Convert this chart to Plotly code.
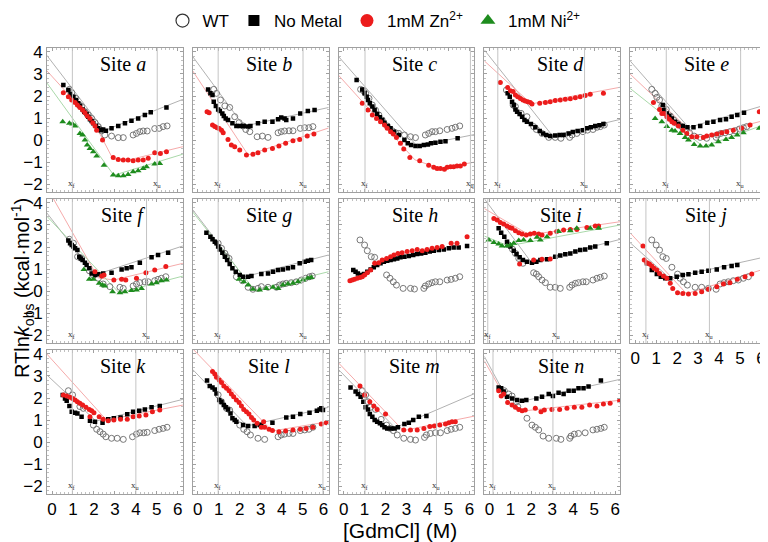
import plotly.graph_objects as go
from plotly.subplots import make_subplots

# ---------------- data: [GdmCl] (M), RTln k_obs (kcal/mol) ----------------
SITES = list("abcdefghijklmn")
XF = [0.97, 0.97, 1.02, 0.40, 1.48, 0.97, 0.97, None, -0.08, 0.51, 0.97, 0.97, 1.02, 0.17]
XU = [5.02, 5.02, 6.05, 4.54, 5.03, 4.51, 5.02, None, 3.19, 3.54, 4.00, 5.97, 4.43, 3.03]
X_TICKS = [0, 1, 2, 3, 4, 5, 6]
Y_TICKS = [-2, -1, 0, 1, 2, 3, 4]

# site a
wt_a = [[0.83,2.30],[0.94,2.15],[1.14,1.89],[1.30,1.59],[1.41,1.52],[1.57,1.29],[1.73,1.14],[1.89,0.98],[2.05,0.79],[2.21,0.61],[2.37,0.42],[2.52,0.23],[2.84,0.18],[3.16,0.11],[3.40,0.11],[3.87,0.23],[4.03,0.30],[4.19,0.38],[4.35,0.41],[4.54,0.41],[4.90,0.52],[5.11,0.53],[5.30,0.61],[5.49,0.64]]
nm_a = [[0.54,2.50],[0.78,2.27],[0.89,2.08],[1.02,1.97],[1.14,1.82],[1.25,1.67],[1.33,1.55],[1.46,1.39],[1.54,1.29],[1.65,1.18],[1.73,1.06],[1.81,0.94],[1.89,0.86],[1.97,0.76],[2.10,0.64],[2.21,0.53],[2.33,0.45],[2.44,0.48],[2.57,0.42],[2.84,0.53],[3.16,0.64],[3.48,0.76],[3.79,0.88],[4.11,0.98],[4.43,1.14],[4.71,1.26],[5.46,1.48]]
zn_a = [[0.54,2.15],[0.78,1.97],[0.94,1.82],[1.10,1.70],[1.21,1.59],[1.33,1.48],[1.46,1.36],[1.57,1.24],[1.68,1.09],[1.81,0.98],[1.94,0.79],[2.05,0.64],[2.13,0.45],[2.41,0.00],[2.92,-0.79],[3.16,-0.88],[3.40,-0.91],[3.63,-0.91],[3.87,-0.94],[4.11,-0.91],[4.35,-0.91],[4.59,-0.83],[4.90,-0.58],[5.17,-0.61],[5.46,-0.53]]
ni_a = [[0.51,0.83],[0.83,0.76],[0.98,0.73],[1.10,0.64],[1.33,0.30],[1.46,0.23],[1.57,0.00],[1.68,-0.23],[1.81,-0.38],[1.97,-0.53],[2.13,-0.73],[2.48,-1.14],[2.92,-1.59],[3.16,-1.62],[3.40,-1.62],[3.63,-1.56],[3.87,-1.44],[4.11,-1.39],[4.35,-1.29],[4.51,-1.21],[4.90,-1.09],[5.14,-1.06]]
fit_nm_a = [[-0.25,3.85],[2.5,0.43],[6.25,1.85]]
fit_zn_a = [[-0.25,3.15],[2.0,0.8],[2.9,-0.85],[3.6,-0.92],[6.25,-0.3]]
fit_ni_a = [[-0.25,2.6],[2.95,-1.6],[6.25,-0.64]]

# site b
wt_b = [[0.76,2.30],[0.89,2.12],[1.08,1.82],[1.29,1.55],[1.52,1.48],[1.76,1.06],[1.97,0.79],[2.16,0.64],[2.29,0.48],[2.48,0.38],[2.83,0.15],[3.08,0.18],[3.35,0.12],[3.83,0.33],[3.98,0.38],[4.14,0.41],[4.35,0.42],[4.54,0.42],[4.89,0.53],[5.10,0.56],[5.30,0.56],[5.49,0.61]]
nm_b = [[0.49,2.30],[0.60,2.12],[0.70,2.05],[0.76,1.74],[0.86,1.55],[0.97,1.39],[1.05,1.32],[1.17,1.21],[1.24,1.09],[1.33,0.98],[1.44,0.91],[1.65,0.76],[1.84,0.64],[2.00,0.64],[2.19,0.64],[2.40,0.61],[2.51,0.64],[2.87,0.76],[3.19,0.83],[3.56,0.83],[3.83,0.94],[3.98,1.02],[4.14,0.98],[4.22,0.91],[4.54,0.98],[4.89,1.21],[5.25,1.32],[5.57,1.36]]
zn_b = [[0.44,1.29],[0.54,1.24],[0.70,0.68],[0.81,0.61],[0.92,0.56],[1.02,0.52],[1.13,0.45],[1.21,0.33],[1.44,0.03],[1.60,-0.23],[1.76,-0.30],[2.00,-0.45],[2.32,-0.68],[2.63,-0.64],[2.87,-0.58],[3.19,-0.45],[3.56,-0.38],[3.87,-0.27],[4.19,-0.15],[4.54,-0.03],[4.86,0.03],[5.22,0.18],[5.54,0.27]]
fit_nm_b = [[-0.25,3.8],[2.2,0.63],[6.25,1.48]]
fit_zn_b = [[-0.25,3.15],[2.4,-0.68],[6.25,0.55]]

# site c
wt_c = [[0.81,2.30],[0.94,2.24],[1.05,2.12],[1.21,1.89],[1.37,1.59],[1.52,1.36],[1.68,1.14],[1.84,0.91],[2.08,0.64],[2.32,0.42],[2.48,0.33],[2.63,0.30],[2.90,0.23],[3.19,0.15],[3.43,0.11],[3.90,0.23],[4.06,0.30],[4.22,0.38],[4.38,0.38],[4.59,0.42],[4.94,0.48],[5.17,0.53],[5.33,0.58],[5.54,0.64]]
nm_c = [[0.62,2.73],[0.89,2.30],[1.00,2.12],[1.10,1.97],[1.16,1.82],[1.25,1.67],[1.37,1.52],[1.48,1.36],[1.60,1.18],[1.73,1.03],[1.84,0.91],[1.95,0.79],[2.11,0.64],[2.24,0.53],[2.40,0.38],[2.63,0.23],[2.90,0.00],[3.06,-0.15],[3.22,-0.23],[3.43,-0.27],[3.63,-0.27],[3.83,-0.23],[4.02,-0.20],[4.17,-0.15],[4.38,-0.12],[4.62,-0.08],[4.86,-0.05],[5.44,0.08]]
zn_c = [[0.89,1.67],[1.16,1.36],[1.37,1.14],[1.57,0.98],[1.76,0.83],[1.95,0.68],[2.08,0.53],[2.24,0.38],[2.37,0.27],[2.52,0.12],[2.71,-0.15],[2.87,-0.41],[3.16,-0.79],[3.63,-0.94],[4.06,-1.14],[4.30,-1.24],[4.46,-1.29],[4.62,-1.29],[4.81,-1.33],[4.94,-1.24],[5.10,-1.21],[5.25,-1.21],[5.41,-1.18],[5.57,-1.18],[5.76,-1.09]]
fit_nm_c = [[-0.25,3.8],[3.5,-0.27],[6.25,0.25]]
fit_zn_c = [[-0.25,2.95],[3.4,-0.9],[4.6,-1.3],[6.25,-1.0]]

# site d
wt_d = [[0.81,2.27],[1.13,1.59],[1.24,1.52],[1.51,1.21],[1.79,1.06],[2.11,0.61],[2.24,0.48],[2.51,0.30],[2.83,0.12],[3.14,0.12],[3.41,0.08],[3.83,0.12],[3.94,0.23],[4.17,0.30],[4.46,0.38],[4.68,0.45],[4.94,0.48],[5.13,0.58],[5.29,0.61],[5.48,0.68]]
nm_d = [[0.87,2.12],[0.97,1.97],[1.08,1.74],[1.16,1.59],[1.24,1.39],[1.32,1.29],[1.44,1.18],[1.56,1.06],[1.67,0.91],[1.79,0.83],[1.98,0.73],[2.19,0.58],[2.40,0.41],[2.56,0.30],[2.71,0.23],[2.90,0.18],[3.14,0.21],[3.35,0.23],[3.54,0.23],[3.78,0.30],[3.98,0.36],[4.21,0.41],[4.46,0.45],[4.65,0.53],[4.84,0.58],[5.05,0.64],[5.25,0.67],[5.44,0.73]]
zn_d = [[0.52,2.61],[0.87,2.39],[1.00,2.24],[1.13,2.20],[1.24,2.05],[1.35,1.97],[1.48,1.89],[1.60,1.82],[1.71,1.77],[1.83,1.74],[1.95,1.70],[2.03,1.64],[2.40,1.67],[2.67,1.70],[2.90,1.74],[3.14,1.79],[3.38,1.82],[3.62,1.85],[3.86,1.88],[4.10,1.92],[4.33,1.97],[4.57,2.02],[4.81,2.08],[5.44,2.12]]
fit_nm_d = [[-0.25,4.1],[3.0,0.2],[6.25,0.94]]
fit_zn_d = [[-0.25,3.6],[2.0,1.64],[6.25,2.4]]

# site e
wt_e = [[0.79,2.30],[0.95,2.12],[1.03,1.94],[1.16,1.82],[1.27,1.55],[1.35,1.52],[1.48,1.39],[1.67,1.09],[1.83,0.91],[1.98,0.76],[2.22,0.61],[2.43,0.45],[2.59,0.33],[2.81,0.18],[3.10,0.12],[3.41,0.08],[3.86,0.12],[3.92,0.23],[4.08,0.30],[4.29,0.33],[4.52,0.38],[4.76,0.42],[4.97,0.50],[5.16,0.56],[5.32,0.61]]
nm_e = [[1.32,1.59],[1.38,1.36],[1.51,1.21],[1.63,1.09],[1.75,0.98],[1.90,0.83],[2.06,0.73],[2.27,0.64],[2.49,0.58],[2.78,0.58],[3.10,0.64],[3.44,0.79],[3.73,0.83],[4.05,0.91],[4.33,0.94],[4.60,1.06],[4.87,1.14],[5.19,1.24]]
zn_e = [[0.87,1.70],[1.16,1.39],[1.27,1.21],[1.38,1.21],[1.51,1.06],[1.63,0.94],[1.75,0.83],[1.86,0.76],[2.06,0.64],[2.27,0.45],[2.46,0.30],[2.70,0.15],[2.94,0.15],[3.25,0.12],[3.41,0.18],[3.65,0.23],[3.89,0.27],[4.13,0.33],[4.37,0.38],[4.68,0.45],[5.08,0.53],[5.48,0.68],[5.92,1.29]]
ni_e = [[0.95,0.98],[1.27,0.83],[1.51,0.61],[1.75,0.45],[1.90,0.41],[2.14,0.30],[2.38,0.12],[2.54,0.00],[2.81,-0.20],[3.10,-0.27],[3.38,-0.27],[3.65,-0.23],[3.97,-0.08],[4.33,0.03],[4.60,0.12],[4.87,0.23],[5.16,0.33],[5.92,0.53]]
fit_nm_e = [[-0.25,3.6],[2.55,0.57],[6.25,1.6]]
fit_zn_e = [[-0.25,3.0],[2.95,0.12],[6.25,0.91]]
fit_ni_e = [[-0.25,2.35],[3.25,-0.3],[6.25,0.73]]

# site f
wt_f = [[0.83,2.35],[1.02,2.17],[1.22,1.56],[1.41,1.48],[1.78,0.92],[1.97,0.73],[2.21,0.58],[2.44,0.32],[2.76,0.20],[3.24,0.17],[3.40,0.12],[3.87,0.23],[4.03,0.32],[4.19,0.38],[4.43,0.42],[4.59,0.42],[4.90,0.47],[5.06,0.53],[5.22,0.58],[5.43,0.65]]
nm_f = [[0.78,2.29],[0.86,2.17],[0.94,2.09],[1.02,2.02],[1.10,1.94],[1.21,1.86],[1.30,1.56],[1.37,1.48],[1.46,1.41],[1.57,1.29],[1.65,1.18],[1.78,1.03],[1.89,0.80],[2.05,0.73],[2.21,0.76],[2.44,0.80],[2.84,0.83],[3.32,0.98],[3.56,1.03],[3.79,1.08],[4.19,1.29],[4.75,1.53],[5.06,1.64],[5.54,1.74]]
zn_f = [[2.05,0.88],[2.37,0.68],[2.48,0.73],[2.95,0.50],[3.32,0.53],[3.52,0.50],[4.03,0.58],[4.48,0.83],[4.90,0.95],[5.43,1.11]]
ni_f = [[1.52,0.98],[1.78,0.53],[1.97,0.53],[2.25,0.35],[2.41,0.27],[2.52,0.23],[2.89,-0.03],[3.24,-0.08],[3.48,-0.03],[3.79,0.02],[4.03,0.05],[4.27,0.12],[4.75,0.32],[4.98,0.38],[5.22,0.47],[5.46,0.50]]
fit_nm_f = [[-0.25,3.55],[2.05,0.73],[6.25,2.05]]
fit_zn_f = [[0.06,4.2],[2.2,0.6],[2.95,0.5],[6.25,1.26]]
fit_ni_f = [[-0.25,3.4],[3.2,-0.08],[6.25,0.68]]

# site g
wt_g = [[0.97,2.17],[1.13,1.94],[1.29,1.71],[1.37,1.56],[1.49,1.48],[1.84,0.65],[2.13,0.47],[2.40,0.17],[2.63,0.08],[2.87,0.12],[3.03,0.20],[3.35,0.17],[3.75,0.17],[3.90,0.27],[4.06,0.32],[4.22,0.35],[4.46,0.38],[4.70,0.42],[4.94,0.50],[5.14,0.58],[5.33,0.65],[5.46,0.68]]
nm_g = [[0.41,2.65],[0.60,2.47],[0.70,2.35],[0.81,2.24],[0.89,2.17],[0.97,2.02],[1.05,1.89],[1.17,1.74],[1.29,1.56],[1.40,1.41],[1.52,1.23],[1.65,1.03],[1.81,0.88],[2.00,0.73],[2.16,0.65],[2.40,0.65],[2.56,0.68],[3.03,0.77],[3.35,0.80],[3.59,0.88],[3.83,0.95],[4.06,0.98],[4.30,1.03],[4.54,1.08],[4.86,1.26],[5.10,1.33],[5.25,1.38],[5.41,1.41]]
ni_g = [[1.97,0.53],[2.19,0.42],[2.40,0.27],[2.63,0.08],[2.95,0.05],[3.27,0.12],[3.59,0.17],[3.83,0.12],[4.06,0.27],[4.30,0.32],[4.54,0.35],[4.78,0.42],[5.02,0.50],[5.25,0.58],[5.41,0.61]]
fit_nm_g = [[-0.25,3.7],[2.2,0.64],[6.25,1.64]]
fit_ni_g = [[-0.25,3.6],[2.7,0.05],[6.25,0.88]]

# site h
wt_h = [[0.78,2.32],[1.00,2.09],[1.13,1.83],[1.32,1.56],[1.48,1.53],[2.05,0.73],[2.21,0.58],[2.37,0.42],[2.52,0.27],[2.84,0.12],[3.19,0.12],[3.38,0.09],[3.83,0.12],[3.90,0.23],[4.06,0.32],[4.22,0.38],[4.38,0.42],[4.59,0.42],[4.94,0.50],[5.13,0.53],[5.33,0.58],[5.54,0.65]]
nm_h = [[0.46,0.95],[0.57,0.88],[0.68,0.80],[0.81,0.73],[0.97,0.77],[1.13,0.88],[1.29,0.98],[1.44,1.08],[1.60,1.18],[1.76,1.26],[1.92,1.33],[2.08,1.38],[2.24,1.41],[2.40,1.44],[2.56,1.48],[2.71,1.53],[2.90,1.56],[3.11,1.59],[3.32,1.64],[3.51,1.68],[3.70,1.71],[3.90,1.74],[4.11,1.79],[4.30,1.83],[4.54,1.86],[4.78,1.89],[5.02,1.94],[5.25,1.98],[5.49,1.98],[5.89,2.05]]
zn_h = [[0.30,0.47],[0.41,0.50],[0.52,0.53],[0.65,0.58],[0.78,0.62],[0.89,0.65],[1.00,0.73],[1.13,0.83],[1.29,0.95],[1.48,1.26],[1.68,1.29],[1.84,1.41],[2.05,1.48],[2.24,1.56],[2.40,1.64],[2.59,1.71],[2.79,1.74],[3.03,1.79],[3.27,1.83],[3.51,1.89],[3.75,1.83],[3.98,1.89],[4.22,1.94],[4.46,1.98],[4.70,2.02],[5.13,2.17],[5.41,2.17],[5.89,2.47]]

# site i
wt_i = [[0.90,2.10],[1.10,1.90],[1.24,1.71],[1.40,1.48],[1.60,1.26],[2.11,0.83],[2.24,0.77],[2.35,0.65],[2.51,0.50],[2.67,0.38],[2.90,0.17],[3.14,0.17],[3.38,0.12],[3.83,0.17],[3.94,0.27],[4.10,0.35],[4.25,0.38],[4.46,0.42],[4.62,0.42],[4.94,0.50],[5.13,0.58],[5.29,0.62],[5.48,0.68]]
nm_i = [[0.44,2.85],[0.56,2.65],[0.71,2.47],[0.84,2.24],[1.00,2.02],[1.16,1.83],[1.29,1.68],[1.44,1.53],[1.60,1.41],[1.79,1.33],[2.03,1.29],[2.24,1.33],[2.43,1.41],[2.75,1.44],[3.14,1.56],[3.38,1.61],[3.62,1.67],[3.86,1.71],[4.10,1.79],[4.33,1.86],[4.57,1.89],[4.81,1.98],[5.05,2.02],[5.60,2.17]]
zn_i = [[0.21,3.30],[0.37,3.23],[0.52,3.11],[0.68,3.05],[0.84,2.95],[0.97,2.89],[1.08,2.85],[1.24,2.74],[1.40,2.65],[1.56,2.59],[1.76,2.55],[1.95,2.59],[2.14,2.62],[2.35,2.59],[2.51,2.55],[2.90,2.62],[3.21,2.70],[3.54,2.77],[3.86,2.80],[4.17,2.80],[4.65,2.89],[5.05,2.95],[5.21,2.95],[1.44,1.23],[2.11,1.41],[2.51,1.44],[2.90,1.45]]
ni_i = [[-0.03,2.32],[0.21,2.20],[0.44,2.14],[0.60,2.05],[0.84,2.05],[1.00,2.09],[1.16,2.17],[1.40,2.29],[1.63,2.32],[1.95,2.29],[2.27,2.44],[2.43,2.32],[2.75,2.47],[3.30,2.70],[3.86,2.74],[4.17,2.85],[4.81,2.85],[5.21,2.85]]
fit_nm_i = [[-0.25,4.2],[2.0,1.3],[6.25,2.35]]
fit_zn_i = [[-0.25,3.75],[1.9,2.55],[6.25,3.15]]
fit_ni_i = [[-0.25,2.5],[0.9,2.05],[6.25,3.0]]

# site j
wt_j = [[0.79,2.32],[1.00,2.09],[1.16,1.86],[1.32,1.56],[1.48,1.48],[1.75,1.08],[2.02,0.77],[2.14,0.58],[2.30,0.42],[2.49,0.27],[2.86,0.17],[3.17,0.17],[3.49,0.12],[3.86,0.08],[4.05,0.32],[4.24,0.38],[4.44,0.42],[4.68,0.47],[4.92,0.50],[5.16,0.58],[5.40,0.65]]
nm_j = [[0.56,1.26],[0.79,0.95],[1.03,0.77],[1.22,0.65],[1.43,0.58],[1.67,0.58],[1.98,0.65],[2.27,0.73],[2.54,0.76],[2.86,0.83],[3.17,0.88],[3.49,0.92],[3.89,0.98],[4.24,1.08],[4.60,1.14],[4.87,1.18]]
zn_j = [[0.37,2.05],[0.43,1.41],[0.56,1.29],[0.68,1.23],[0.79,1.14],[0.90,1.03],[1.03,0.95],[1.16,0.80],[1.35,0.68],[1.51,0.58],[1.67,0.35],[1.79,0.12],[2.02,-0.08],[2.27,-0.11],[2.54,-0.14],[2.86,-0.11],[3.17,-0.03],[3.49,0.08],[3.89,0.20],[4.21,0.32],[4.52,0.38],[4.87,0.53],[5.24,0.65],[5.56,0.77]]
fit_nm_j = [[-0.25,2.2],[1.65,0.58],[6.25,1.56]]
fit_zn_j = [[-0.25,2.65],[2.45,-0.12],[6.25,1.03]]

# site k
wt_k = [[0.78,2.33],[0.98,2.14],[1.33,1.61],[1.49,1.53],[1.97,0.77],[2.13,0.58],[2.29,0.47],[2.44,0.36],[2.57,0.24],[2.84,0.17],[3.11,0.17],[3.40,0.12],[3.84,0.24],[4.03,0.36],[4.19,0.42],[4.38,0.42],[4.54,0.44],[4.90,0.52],[5.11,0.58],[5.30,0.62],[5.49,0.67]]
nm_k = [[0.51,2.14],[0.62,1.98],[0.70,1.88],[0.83,1.64],[0.94,1.38],[1.10,1.33],[1.21,1.30],[1.41,1.15],[1.81,0.97],[2.05,0.92],[2.41,0.88],[2.68,1.03],[2.95,1.08],[3.27,1.12],[3.59,1.26],[3.87,1.38],[4.16,1.42],[4.43,1.48],[4.75,1.58],[5.14,1.64]]
zn_k = [[0.54,2.14],[0.70,2.09],[0.86,2.03],[0.98,1.98],[1.10,1.91],[1.21,1.83],[1.33,1.76],[1.46,1.68],[1.62,1.58],[1.78,1.48],[1.89,1.42],[2.00,1.33],[1.81,1.15],[2.25,1.15],[2.44,1.03],[2.68,0.97],[2.95,1.00],[3.27,1.03],[3.59,1.03],[3.87,1.15],[4.16,1.18],[4.48,1.23],[4.79,1.38],[5.14,1.45]]
fit_nm_k = [[-0.25,3.05],[2.1,0.95],[6.25,1.94]]
fit_zn_k = [[-0.25,4.0],[2.6,1.0],[6.25,1.68]]

# site l
wt_l = [[0.97,2.14],[1.13,1.83],[1.37,1.53],[1.52,1.45],[2.00,0.77],[2.19,0.58],[2.35,0.47],[2.51,0.32],[2.87,0.17],[3.19,0.12],[3.83,0.24],[3.98,0.32],[4.14,0.36],[4.35,0.39],[4.54,0.39],[4.89,0.52],[5.10,0.55],[5.30,0.58],[5.49,0.67]]
nm_l = [[0.44,2.79],[0.57,2.55],[0.70,2.48],[0.81,2.39],[0.89,2.21],[1.02,1.91],[1.13,1.83],[1.24,1.68],[1.33,1.58],[1.44,1.48],[1.56,1.30],[1.65,1.08],[1.76,1.00],[1.84,0.92],[2.16,0.77],[2.40,0.73],[2.71,0.73],[2.95,0.77],[3.03,0.77],[3.56,0.88],[4.22,1.11],[4.54,1.15],[4.89,1.27],[5.33,1.33],[5.68,1.42],[5.81,1.48],[5.89,1.53],[5.97,1.45]]
zn_l = [[0.70,3.20],[0.81,3.09],[0.89,2.94],[1.02,2.82],[1.13,2.70],[1.24,2.55],[1.37,2.44],[1.49,2.33],[1.60,2.18],[1.71,2.06],[1.84,1.91],[1.97,1.79],[2.08,1.64],[2.19,1.48],[2.32,1.38],[2.44,1.27],[2.56,1.12],[2.67,1.00],[2.83,0.85],[3.03,0.67],[3.14,0.92],[3.19,0.67],[3.40,0.58],[3.56,0.52],[3.87,0.47],[4.19,0.50],[4.54,0.55],[4.89,0.58],[5.17,0.62],[5.49,0.67],[5.89,0.82],[6.13,0.88]]
fit_nm_l = [[-0.25,3.3],[2.35,0.73],[6.25,1.58]]
fit_zn_l = [[-0.25,4.24],[3.55,0.5],[6.25,0.93]]

# site m
wt_m = [[0.89,2.33],[1.05,2.14],[1.16,1.83],[1.29,1.58],[1.52,1.48],[1.79,1.03],[2.05,0.77],[2.21,0.62],[2.37,0.52],[2.56,0.32],[2.87,0.17],[3.19,0.12],[3.43,0.09],[3.86,0.21],[3.95,0.32],[4.14,0.39],[4.38,0.42],[4.62,0.42],[4.94,0.52],[5.13,0.58],[5.33,0.62],[5.54,0.67]]
nm_m = [[0.33,2.48],[0.57,2.29],[0.68,2.18],[0.81,2.06],[0.94,1.83],[1.05,1.58],[1.16,1.48],[1.25,1.27],[1.37,1.15],[1.48,1.00],[1.60,0.92],[1.73,0.85],[1.84,0.77],[1.95,0.67],[2.08,0.62],[2.27,0.62],[2.43,0.62],[2.59,0.67],[2.90,0.82],[3.11,0.88],[3.32,1.00],[3.59,1.15],[3.95,1.18]]
zn_m = [[0.78,2.55],[1.00,2.14],[1.25,1.83],[1.44,1.64],[1.60,1.48],[2.00,1.27],[2.87,0.55],[3.19,0.55],[3.51,0.55],[3.83,0.62],[4.11,0.70],[4.33,0.73],[4.59,0.77],[4.86,0.82],[5.02,0.88],[5.17,0.92],[5.33,0.92]]
fit_nm_m = [[-0.25,3.3],[2.45,0.65],[6.25,2.2]]
fit_zn_m = [[-0.25,3.6],[2.85,0.52],[6.25,1.18]]

# site n
wt_n = [[0.71,2.33],[0.92,2.18],[1.08,2.09],[1.29,1.83],[1.35,1.61],[1.79,1.08],[2.03,0.77],[2.19,0.67],[2.35,0.55],[2.56,0.27],[2.83,0.17],[3.19,0.17],[3.41,0.12],[3.83,0.17],[3.89,0.27],[4.05,0.36],[4.25,0.39],[4.57,0.42],[4.94,0.55],[5.13,0.58],[5.32,0.62],[5.48,0.67]]
nm_n = [[0.44,2.48],[0.56,2.44],[0.68,2.29],[0.84,2.06],[1.08,1.98],[1.32,1.91],[1.56,1.88],[1.76,1.91],[2.24,1.98],[2.51,2.06],[2.83,2.18],[3.03,2.09],[3.30,2.24],[3.54,2.18],[3.78,2.33],[4.02,2.33],[4.25,2.44],[4.49,2.44],[4.73,2.52],[5.32,2.79]]
zn_n = [[0.44,2.33],[0.56,2.09],[0.68,2.18],[0.87,1.79],[1.08,1.68],[1.24,1.58],[1.40,1.48],[1.56,1.42],[1.71,1.45],[2.19,1.53],[2.46,1.38],[2.62,1.45],[2.98,1.48],[3.35,1.48],[3.70,1.53],[4.05,1.58],[4.41,1.58],[4.78,1.68],[5.13,1.64],[5.44,1.73],[5.76,1.76],[6.21,1.88]]
fit_nm_n = [[-0.25,3.9],[0.8,2.05],[1.7,1.88],[6.25,2.85]]
fit_zn_n = [[-0.25,3.7],[0.9,1.78],[1.7,1.42],[6.25,1.9]]

# ---------------- assemble ----------------
WT = dict(a=wt_a, b=wt_b, c=wt_c, d=wt_d, e=wt_e, f=wt_f, g=wt_g, h=wt_h, i=wt_i, j=wt_j, k=wt_k, l=wt_l, m=wt_m, n=wt_n)
NM = dict(a=nm_a, b=nm_b, c=nm_c, d=nm_d, e=nm_e, f=nm_f, g=nm_g, h=nm_h, i=nm_i, j=nm_j, k=nm_k, l=nm_l, m=nm_m, n=nm_n)
ZN = dict(a=zn_a, b=zn_b, c=zn_c, d=zn_d, e=zn_e, f=zn_f, h=zn_h, i=zn_i, j=zn_j, k=zn_k, l=zn_l, m=zn_m, n=zn_n)
NI = dict(a=ni_a, e=ni_e, f=ni_f, g=ni_g, i=ni_i)
FIT_NM = dict(a=fit_nm_a, b=fit_nm_b, c=fit_nm_c, d=fit_nm_d, e=fit_nm_e, f=fit_nm_f, g=fit_nm_g, i=fit_nm_i, j=fit_nm_j, k=fit_nm_k, l=fit_nm_l, m=fit_nm_m, n=fit_nm_n)
FIT_ZN = dict(a=fit_zn_a, b=fit_zn_b, c=fit_zn_c, d=fit_zn_d, e=fit_zn_e, f=fit_zn_f, i=fit_zn_i, j=fit_zn_j, k=fit_zn_k, l=fit_zn_l, m=fit_zn_m, n=fit_zn_n)
FIT_NI = dict(a=fit_ni_a, e=fit_ni_e, f=fit_ni_f, g=fit_ni_g, i=fit_ni_i)

C_WT, C_NM, C_ZN, C_NI = "#6a6a6a", "#000000", "#ec1c1c", "#1e8c1e"
F_NM, F_ZN, F_NI = "#a8a8a8", "#f4a0a0", "#9fd49f"

# the page body adds an 8 px offset, so the figure is 8 px smaller and all page positions shift by 8
OFF = 8
W, H = 768 - OFF, 542 - OFF
ML, MR, MT = 47 - OFF, 2, 48 - OFF
PLOT_BOTTOM = 494 - OFF
MB = H - PLOT_BOTTOM
PW, PH = W - ML - MR, H - MT - MB

fig = make_subplots(rows=3, cols=5, horizontal_spacing=10 / PW, vertical_spacing=7 / PH)

def xy(pts):
    return [p[0] for p in pts], [p[1] for p in pts]

for k, s in enumerate(SITES):
    r, c = k // 5 + 1, k % 5 + 1
    n = (r - 1) * 5 + c
    xr = "x" if n == 1 else f"x{n}"
    yr = "y" if n == 1 else f"y{n}"
    for fits, col in ((FIT_NM, F_NM), (FIT_ZN, F_ZN), (FIT_NI, F_NI)):
        if s in fits:
            fx, fy = xy(fits[s])
            fig.add_trace(go.Scatter(x=fx, y=fy, mode="lines", line=dict(color=col, width=0.9),
                                     showlegend=False, hoverinfo="skip"), row=r, col=c)
    for xv, lab in ((XF[k], "f"), (XU[k], "u")):
        if xv is None:
            continue
        fig.add_shape(type="line", xref=xr, yref=f"{yr} domain", x0=xv, x1=xv, y0=0, y1=1,
                      line=dict(color="#c4c4c4", width=1))
        fig.add_annotation(x=xv, y=-1.97, xref=xr, yref=yr, text=f"x<sub>{lab}</sub>", showarrow=False,
                           font=dict(family="Liberation Serif", size=9, color="#333333"))
    series = ((WT, dict(symbol="circle-open", color=C_WT, size=6, line=dict(width=0.9, color=C_WT))),
              (NM, dict(symbol="square", color=C_NM, size=4.5)),
              (ZN, dict(symbol="circle", color=C_ZN, size=5)),
              (NI, dict(symbol="triangle-up", color=C_NI, size=6)))
    for data, mk in series:
        if s in data:
            dx, dy = xy(data[s])
            fig.add_trace(go.Scatter(x=dx, y=dy, mode="markers", marker=mk, showlegend=False,
                                     hoverinfo="skip"), row=r, col=c)
    fig.add_annotation(x=3.4, y=3.45, xref=xr, yref=yr, text=f"Site <i>{s}</i>", showarrow=False,
                       font=dict(family="Liberation Serif", size=20, color="black"))

for name, mk in (("WT", dict(symbol="circle-open", color="#333", size=13, line=dict(width=1.2, color="#333"))),
                 ("No Metal", dict(symbol="square", color="black", size=11)),
                 ("1mM Zn<sup>2+</sup>", dict(symbol="circle", color=C_ZN, size=13)),
                 ("1mM Ni<sup>2+</sup>", dict(symbol="triangle-up", color=C_NI, size=13))):
    fig.add_trace(go.Scatter(x=[None], y=[None], mode="markers", marker=mk, name=name), row=1, col=1)

axis_common = dict(showline=True, linecolor="#a0a0a0", linewidth=1, mirror="allticks", ticks="inside",
                   ticklen=3, tickcolor="#a0a0a0", showgrid=False, zeroline=False,
                   tickfont=dict(family="Liberation Sans", size=17, color="black"),
                   minor=dict(ticks="inside", ticklen=2, tickcolor="#c0c0c0", dtick=0.2, showgrid=False))

for n in range(1, 16):
    r, c = (n - 1) // 5 + 1, (n - 1) % 5 + 1
    xa = "xaxis" if n == 1 else f"xaxis{n}"
    ya = "yaxis" if n == 1 else f"yaxis{n}"
    if n == 15:
        fig.layout[xa].update(visible=False)
        fig.layout[ya].update(visible=False)
        continue
    show_x = (r == 3) or (r == 2 and c == 5)
    fig.layout[xa].update(range=[-0.24, 6.24], tickvals=X_TICKS, showticklabels=show_x, **axis_common)
    fig.layout[ya].update(range=[-2.36, 4.18], tickvals=Y_TICKS, showticklabels=(c == 1), **axis_common)

fig.add_annotation(xref="paper", yref="paper", x=(400 - OFF - ML) / PW, y=-(530 - OFF - PLOT_BOTTOM) / PH,
                   text="[GdmCl] (M)", showarrow=False, yanchor="middle",
                   font=dict(family="Liberation Sans", size=21, color="black"))
fig.add_annotation(xref="paper", yref="paper", x=(22 - OFF - ML) / PW, y=(PLOT_BOTTOM - (288 - OFF)) / PH,
                   text="RTln<i>k</i><sub>obs</sub> (kcal·mol<sup>-1</sup>)", textangle=-90, showarrow=False,
                   xanchor="center", yanchor="middle",
                   font=dict(family="Liberation Sans", size=20, color="black"))

fig.update_layout(width=W, height=H, margin=dict(l=ML, r=MR, t=MT, b=MB, autoexpand=False),
                  paper_bgcolor="white", plot_bgcolor="white",
                  font=dict(family="Liberation Sans", color="black"),
                  legend=dict(orientation="h", x=(374 - OFF - ML) / PW, xanchor="center",
                              y=(PLOT_BOTTOM - (21 - OFF)) / PH, yanchor="middle",
                              font=dict(family="Liberation Sans", size=17, color="black"),
                              bgcolor="rgba(0,0,0,0)", itemsizing="trace"))

fig.write_html("out.html")
